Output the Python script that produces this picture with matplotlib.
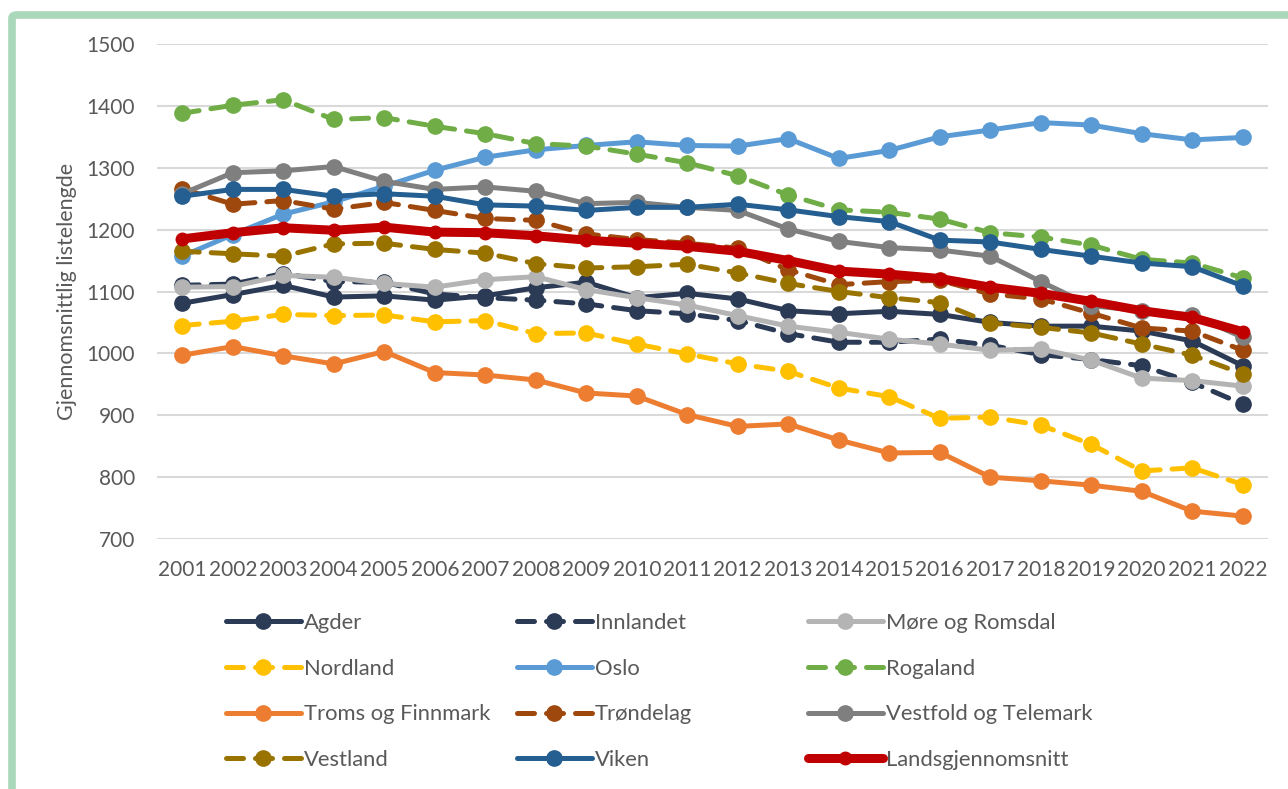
import numpy as np
import matplotlib
matplotlib.use('Agg')
from matplotlib import pyplot as plt
from matplotlib.patches import FancyBboxPatch

# data
years = list(range(2001, 2023))

agder = [1081, 1095, 1110, 1091, 1093, 1086, 1093, 1106, 1115, 1090, 1097, 1088,
         1069, 1064, 1068, 1063, 1050, 1044, 1044, 1036, 1020, 980]
innlandet = [1110, 1112, 1129, 1116, 1115, 1096, 1090, 1086, 1080, 1069, 1064, 1053,
             1032, 1018, 1018, 1023, 1013, 998, 990, 980, 953, 918]
more_romsdal = [1107, 1108, 1126, 1123, 1113, 1107, 1119, 1124, 1103, 1090, 1078, 1061,
                1044, 1034, 1023, 1015, 1005, 1007, 989, 960, 956, 947]
nordland = [1045, 1052, 1063, 1061, 1062, 1051, 1053, 1032, 1033, 1015, 999, 983,
            971, 944, 930, 895, 897, 884, 853, 810, 815, 788]
oslo = [1157, 1192, 1225, 1245, 1270, 1296, 1317, 1329, 1336, 1342, 1336, 1335,
        1347, 1315, 1328, 1350, 1361, 1373, 1369, 1355, 1345, 1349]
rogaland = [1388, 1401, 1410, 1378, 1381, 1367, 1355, 1339, 1335, 1322, 1308, 1287,
            1256, 1232, 1228, 1217, 1195, 1188, 1175, 1152, 1146, 1122]
troms_finnmark = [997, 1011, 996, 983, 1003, 969, 965, 957, 936, 931, 901, 882,
                  886, 860, 839, 840, 800, 794, 787, 777, 745, 737]
trondelag = [1266, 1241, 1247, 1233, 1244, 1231, 1218, 1215, 1193, 1184, 1178, 1170,
             1135, 1111, 1116, 1118, 1096, 1088, 1065, 1041, 1036, 1005]
vestfold_telemark = [1258, 1292, 1295, 1302, 1278, 1265, 1269, 1262, 1242, 1244, 1236, 1231,
                     1201, 1181, 1171, 1167, 1157, 1116, 1077, 1069, 1062, 1026]
vestland = [1165, 1161, 1157, 1177, 1178, 1168, 1162, 1145, 1138, 1140, 1144, 1130,
            1113, 1100, 1090, 1082, 1049, 1042, 1033, 1015, 997, 967]
viken = [1254, 1265, 1265, 1254, 1258, 1254, 1240, 1238, 1231, 1236, 1236, 1241,
         1232, 1221, 1213, 1183, 1180, 1168, 1157, 1146, 1140, 1109]
landssnitt = [1185, 1195, 1203, 1199, 1204, 1196, 1195, 1190, 1183, 1178, 1173, 1165,
              1150, 1133, 1128, 1121, 1107, 1097, 1084, 1069, 1058, 1035]

series = [
    ('Agder', agder, '#2B3A55', '-'),
    ('Innlandet', innlandet, '#2B3A55', '--'),
    ('Møre og Romsdal', more_romsdal, '#B4B4B4', '-'),
    ('Nordland', nordland, '#FFC000', '--'),
    ('Oslo', oslo, '#5B9BD5', '-'),
    ('Rogaland', rogaland, '#70AD47', '--'),
    ('Troms og Finnmark', troms_finnmark, '#ED7D31', '-'),
    ('Trøndelag', trondelag, '#9E480E', '--'),
    ('Vestfold og Telemark', vestfold_telemark, '#7F7F7F', '-'),
    ('Vestland', vestland, '#997300', '--'),
    ('Viken', viken, '#255E91', '-'),
]

plt.rcParams['font.family'] = ['Lato', 'DejaVu Sans']
text_color = '#595959'

fig = plt.figure(figsize=(12.88, 7.89), dpi=100)

# green frame around the chart (cut off at right and bottom)
frame = FancyBboxPatch((12 / 1288, -0.05), 1.1, 1 - 15 / 789 + 0.05,
                       boxstyle='round,pad=0,rounding_size=0.004',
                       transform=fig.transFigure, fill=False,
                       edgecolor='#A9D8BA', linewidth=5.5, zorder=0)
fig.patches.append(frame)

ax = fig.add_axes([157 / 1288, 1 - 539 / 789, (1268 - 157) / 1288, (539 - 44) / 789])

handles = []
for name, vals, color, ls in series:
    line, = ax.plot(years, vals, color=color, linestyle=ls, linewidth=3.6,
                    marker='o', markersize=11, label=name,
                    solid_capstyle='round', dash_capstyle='round')
    if ls == '--':
        line.set_dashes((3.4, 2.4))
    handles.append(line)

red, = ax.plot(years, landssnitt, color='#C00000', linewidth=6.5, marker='o',
               markersize=9, label='Landsgjennomsnitt', solid_capstyle='round')
handles.append(red)

ax.set_xlim(2000.5, 2022.5)
ax.set_ylim(700, 1500)
ax.set_yticks(np.arange(700, 1501, 100))
ax.set_xticks(years)
ax.grid(axis='y', color='#D9D9D9', linewidth=1.5)
ax.set_axisbelow(True)
for s in ax.spines.values():
    s.set_visible(False)
ax.tick_params(axis='both', length=0, labelsize=15, colors=text_color)
ax.tick_params(axis='y', pad=16)
ax.tick_params(axis='x', pad=15)
ax.set_ylabel('Gjennomsnittlig listelengde', fontsize=15.5, color=text_color, labelpad=7)

# legend: three columns, filled row by row
col_x = [226 / 1288, 517 / 1288, 808 / 1288]
for c in range(3):
    hs = [handles[r * 3 + c] for r in range(4)]
    fig.legend(handles=hs, loc='upper left', bbox_to_anchor=(col_x[c], 1 - 613 / 789),
               frameon=False, fontsize=15.8, labelcolor=text_color,
               handlelength=3.4, handletextpad=0.15, labelspacing=1.17,
               borderaxespad=0, borderpad=0)

fig.savefig('out.png', dpi=100)
